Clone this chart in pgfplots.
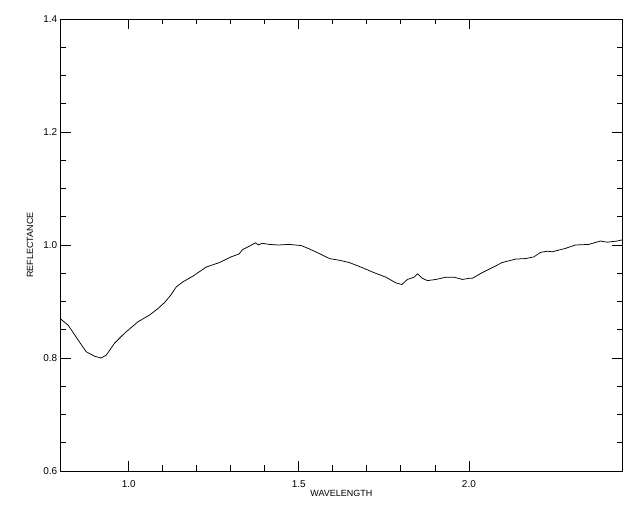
\documentclass[border=0pt]{standalone}
\usepackage{fontspec}
\setmainfont{Liberation Sans}
\usepackage{pgfplots}
\pgfplotsset{compat=1.18}
\begin{document}
\begin{tikzpicture}
\begin{axis}[
  scale only axis,
  width=561.3bp, height=452bp,
  xmin=0.8, xmax=2.45, ymin=0.6, ymax=1.4,
  xtick={1.0,1.5,2.0}, ytick={0.6,0.8,1.0,1.2,1.4},
  minor x tick num=4, minor y tick num=3,
  tick align=inside, tick pos=both,
  major tick length=10bp, minor tick length=5.5bp,
  tick style={black, line width=0.8pt},
  axis line style={black, line width=0.9pt},
  /pgf/number format/assume math mode=true,
  /pgf/number format/.cd, fixed, fixed zerofill, precision=1, /pgfplots/.cd,
  ticklabel style={font=\fontsize{10}{12}\selectfont},
  xticklabel style={yshift=-6.5bp},
  xlabel={WAVELENGTH}, ylabel={REFLECTANCE},
  label style={font=\fontsize{9}{11}\selectfont},
  xlabel style={at={(axis description cs:0.5,-0.0487)}, anchor=center},
  ylabel style={at={(axis description cs:-0.0547,0.5)}, anchor=center},
  clip=true,
]
\addplot[black, line width=0.75pt] coordinates {
(0.800,0.869) (0.822,0.858) (0.851,0.832) (0.875,0.811) (0.900,0.803)
(0.919,0.800) (0.934,0.805) (0.958,0.826) (0.988,0.844) (1.027,0.864)
(1.061,0.876) (1.085,0.887) (1.105,0.898) (1.122,0.910) (1.140,0.926) (1.160,0.935)
(1.189,0.945) (1.228,0.961) (1.267,0.969) (1.301,0.979) (1.324,0.984)
(1.335,0.992) (1.355,0.998) (1.373,1.004) (1.381,1.000) (1.392,1.003)
(1.414,1.001) (1.440,1.000) (1.472,1.001) (1.507,0.999) (1.531,0.993)
(1.560,0.985) (1.590,0.976) (1.619,0.973) (1.648,0.969) (1.678,0.962)
(1.702,0.956) (1.717,0.952) (1.756,0.943) (1.785,0.933) (1.803,0.930)
(1.819,0.939) (1.839,0.943) (1.849,0.949) (1.863,0.941) (1.878,0.937)
(1.903,0.939) (1.932,0.943) (1.956,0.943) (1.981,0.939) (2.000,0.941)
(2.010,0.941) (2.039,0.951) (2.069,0.960) (2.098,0.969) (2.137,0.975)
(2.167,0.976) (2.191,0.979) (2.211,0.987) (2.230,0.989) (2.245,0.988)
(2.284,0.994) (2.313,1.000) (2.352,1.001) (2.387,1.007) (2.406,1.005)
(2.421,1.006) (2.436,1.007) (2.450,1.009)
};
\end{axis}
\path[use as bounding box] ([xshift=-60.7bp,yshift=-41bp]current axis.south west) rectangle ([xshift=18bp,yshift=19bp]current axis.north east);
\end{tikzpicture}
\end{document}
